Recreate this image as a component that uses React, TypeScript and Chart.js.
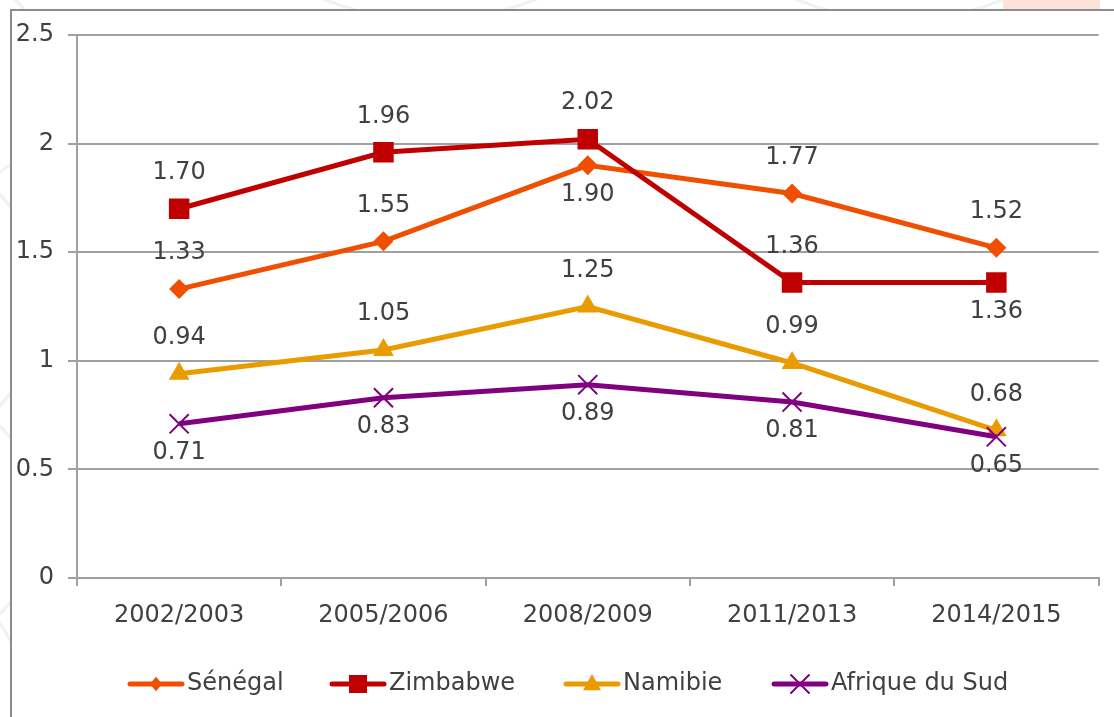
import { useEffect, useRef } from 'react';
import { Chart, registerables } from 'chart.js';

Chart.register(...registerables);

const categories = ['2002/2003', '2005/2006', '2008/2009', '2011/2013', '2014/2015'];
const seriesNames = ['Sénégal', 'Zimbabwe', 'Namibie', 'Afrique du Sud'];
const senegal = [1.33, 1.55, 1.9, 1.77, 1.52];
const zimbabwe = [1.7, 1.96, 2.02, 1.36, 1.36];
const namibie = [0.94, 1.05, 1.25, 0.99, 0.68];
const afriqueDuSud = [0.71, 0.83, 0.89, 0.81, 0.65];
const yMin = 0;
const yMax = 2.5;
const yStep = 0.5;

// where each value label sits relative to its point
const senegalLabelSide = ['above', 'above', 'below', 'above', 'above'];
const zimbabweLabelSide = ['above', 'above', 'above', 'above', 'below'];
const namibieLabelSide = ['above', 'above', 'above', 'above', 'above'];
const afriqueLabelSide = ['below', 'below', 'below', 'below', 'below'];

const COLORS = ['#F04E00', '#C00000', '#E99B00', '#800080'];
const STYLES = ['rectRot', 'rect', 'triangle', 'crossRot'];
const RADII = [10, 14.5, 12, 13.5];
const TEXT = '#404040';
const GRID = '#a0a0a0';
const FAMILY = "'DejaVu Sans', sans-serif";
const FONT_SIZE = 24;
const LEGEND_ITEM_X = [128, 330, 564, 772];

function drawMarker(ctx: CanvasRenderingContext2D, style: string, x: number, y: number, s: number, color: string) {
  ctx.save();
  ctx.fillStyle = color;
  ctx.strokeStyle = color;
  ctx.beginPath();
  if (style === 'rectRot') {
    ctx.moveTo(x, y - s * 1.2);
    ctx.lineTo(x + s, y);
    ctx.lineTo(x, y + s * 1.2);
    ctx.lineTo(x - s, y);
    ctx.closePath();
    ctx.fill();
  } else if (style === 'rect') {
    ctx.rect(x - s, y - s, 2 * s, 2 * s);
    ctx.fill();
  } else if (style === 'triangle') {
    ctx.moveTo(x, y - s * 1.1);
    ctx.lineTo(x + s, y + s * 0.7);
    ctx.lineTo(x - s, y + s * 0.7);
    ctx.closePath();
    ctx.fill();
  } else {
    ctx.lineWidth = 2;
    ctx.moveTo(x - s, y - s);
    ctx.lineTo(x + s, y + s);
    ctx.moveTo(x + s, y - s);
    ctx.lineTo(x - s, y + s);
    ctx.stroke();
  }
  ctx.restore();
}

const backgroundPlugin = {
  id: 'pageBackground',
  beforeDraw(chart: any) {
    const ctx: CanvasRenderingContext2D = chart.ctx;
    const w = chart.width;
    const h = chart.height;
    ctx.save();
    ctx.fillStyle = '#ffffff';
    ctx.fillRect(0, 0, w, h);
    // faint watermark arcs outside the frame
    ctx.save();
    ctx.beginPath();
    ctx.rect(0, 0, w, 10);
    ctx.rect(0, 0, 10, h);
    ctx.clip();
    ctx.strokeStyle = '#f1f1f1';
    ctx.lineWidth = 3;
    const arcs = [
      [-60, 80, 110], [-120, 300, 160], [-90, 520, 130], [-140, 720, 170],
      [430, -260, 280], [900, -250, 270],
    ];
    arcs.forEach(([cx, cy, r]) => {
      ctx.beginPath();
      ctx.arc(cx, cy, r, 0, Math.PI * 2);
      ctx.stroke();
    });
    ctx.fillStyle = '#fce3da';
    ctx.fillRect(1003, 0, 97, 9);
    ctx.restore();
    // frame
    ctx.strokeStyle = '#8c8c8c';
    ctx.lineWidth = 2;
    ctx.beginPath();
    ctx.moveTo(11, h);
    ctx.lineTo(11, 10);
    ctx.lineTo(w, 10);
    ctx.stroke();
    ctx.restore();
  },
};

const valueLabelPlugin = {
  id: 'valueLabels',
  afterDatasetsDraw(chart: any) {
    const ctx: CanvasRenderingContext2D = chart.ctx;
    const sides = [senegalLabelSide, zimbabweLabelSide, namibieLabelSide, afriqueLabelSide];
    ctx.save();
    ctx.font = `${FONT_SIZE}px ${FAMILY}`;
    ctx.fillStyle = TEXT;
    ctx.textAlign = 'center';
    ctx.textBaseline = 'middle';
    chart.data.datasets.forEach((ds: any, i: number) => {
      const meta = chart.getDatasetMeta(i);
      meta.data.forEach((pt: any, j: number) => {
        const side = sides[i][j];
        const y = side === 'above' ? pt.y - 36 : pt.y + 29;
        ctx.fillText(Number(ds.data[j]).toFixed(2), pt.x, y);
      });
    });
    ctx.restore();
  },
};

const legendPlugin = {
  id: 'lineLegend',
  afterDraw(chart: any) {
    const ctx: CanvasRenderingContext2D = chart.ctx;
    ctx.save();
    ctx.font = `${FONT_SIZE}px ${FAMILY}`;
    ctx.textBaseline = 'middle';
    ctx.textAlign = 'left';
    const lineLen = 56;
    const textGap = 3;
    const y = 684;
    const markerSizes = [6, 9, 9, 9];
    seriesNames.forEach((name, i) => {
      const x = LEGEND_ITEM_X[i];
      ctx.strokeStyle = COLORS[i];
      ctx.lineWidth = 5;
      ctx.lineCap = 'round';
      ctx.beginPath();
      ctx.moveTo(x + 2, y);
      ctx.lineTo(x + lineLen - 2, y);
      ctx.stroke();
      drawMarker(ctx, STYLES[i], x + lineLen / 2, y, markerSizes[i], COLORS[i]);
      ctx.fillStyle = TEXT;
      ctx.fillText(name, x + lineLen + textGap, y);
    });
    ctx.restore();
  },
};

export default function App() {
  const canvasRef = useRef<HTMLCanvasElement | null>(null);

  useEffect(() => {
    if (!canvasRef.current) return;
    const seriesValues = [senegal, zimbabwe, namibie, afriqueDuSud];
    const chart = new Chart(canvasRef.current, {
      type: 'line',
      data: {
        labels: categories,
        datasets: seriesValues.map((values, i) => ({
          label: seriesNames[i],
          data: values,
          borderColor: COLORS[i],
          backgroundColor: COLORS[i],
          borderWidth: 5,
          pointStyle: STYLES[i] as any,
          pointRadius: RADII[i],
          pointHoverRadius: RADII[i],
          pointBackgroundColor: COLORS[i],
          pointBorderColor: COLORS[i],
          pointBorderWidth: i === 3 ? 2 : 0,
          tension: 0,
          fill: false,
          order: 4 - i,
        })),
      },
      options: {
        responsive: false,
        animation: false,
        devicePixelRatio: 1,
        layout: { padding: { left: 0, top: 35, right: 9, bottom: 0 } },
        plugins: {
          legend: { display: false },
          tooltip: { enabled: false },
        },
        scales: {
          x: {
            offset: true,
            grid: {
              offset: true,
              drawOnChartArea: false,
              drawTicks: true,
              tickLength: 8,
              color: GRID,
              lineWidth: 2,
            },
            border: { display: true, color: GRID, width: 2 },
            ticks: {
              color: TEXT,
              font: { family: FAMILY, size: FONT_SIZE },
              padding: 15,
              maxRotation: 0,
              autoSkip: false,
            },
            afterFit(scale: any) {
              scale.height = 717 - 578;
            },
          },
          y: {
            min: yMin,
            max: yMax,
            ticks: {
              stepSize: yStep,
              color: TEXT,
              font: { family: FAMILY, size: FONT_SIZE },
              padding: 14,
              callback: (v: any) => String(Number(v)),
            },
            grid: {
              color: GRID,
              lineWidth: 2,
              drawTicks: true,
              tickLength: 9,
            },
            border: { display: true, color: GRID, width: 2 },
            afterFit(scale: any) {
              scale.width = 77;
            },
          },
        },
      },
      plugins: [backgroundPlugin, valueLabelPlugin, legendPlugin],
    });
    return () => chart.destroy();
  }, []);

  return (
    <div style={{ position: 'fixed', left: 0, top: 0, width: 1114, height: 717 }}>
      <canvas ref={canvasRef} width={1114} height={717} style={{ width: 1114, height: 717, display: 'block' }} />
    </div>
  );
}
